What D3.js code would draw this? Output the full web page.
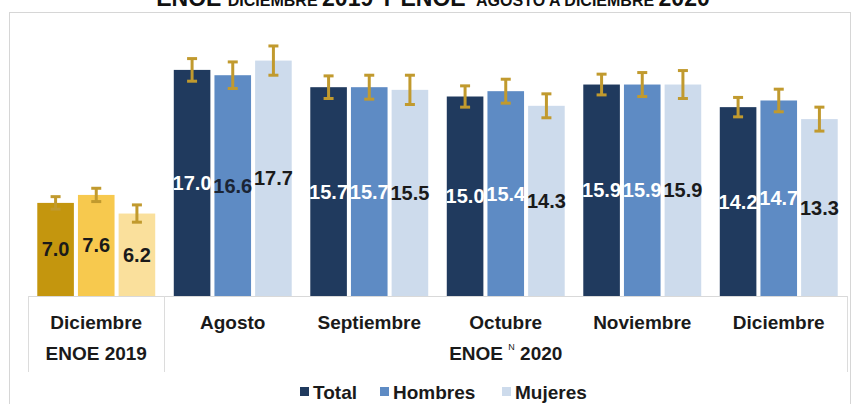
<!DOCTYPE html>
<html>
<head>
<meta charset="utf-8">
<script src="https://cdn.jsdelivr.net/npm/d3@7"></script>
<style>
  html, body { margin: 0; padding: 0; background: #ffffff; }
  svg { display: block; font-family: "Liberation Sans", Arial, sans-serif; }
</style>
</head>
<body>
<svg id="chart" width="854" height="404"></svg>
<script>
// ---- data ----
const categories = ["Diciembre", "Agosto", "Septiembre", "Octubre", "Noviembre", "Diciembre"];
const seriesNames = ["Total", "Hombres", "Mujeres"];
const totalValues   = [7.0, 17.0, 15.7, 15.0, 15.9, 14.2];
const hombresValues = [7.6, 16.6, 15.7, 15.4, 15.9, 14.7];
const mujeresValues = [6.2, 17.7, 15.5, 14.3, 15.9, 13.3];
const totalErr   = [0.47, 0.85, 0.85, 0.8, 0.78, 0.73];
const hombresErr = [0.5, 1.0, 0.9, 0.9, 0.9, 0.85];
const mujeresErr = [0.65, 1.1, 1.1, 0.9, 1.05, 0.9];
const groupLabels = ["ENOE 2019", "ENOE 2020"];
const groupStart = [0, 1];
const groupEnd = [0, 5];

// ---- styles ----
const colors2019 = ["#C4960E", "#F7C94E", "#FAE09C"];
const colors2020 = ["#203A5E", "#5E8BC4", "#CDDBEC"];
const errColor = "#C19A2E";

const svg = d3.select("#chart");

// frame
svg.append("rect").attr("x", 9.5).attr("y", 12.5).attr("width", 841).attr("height", 420)
  .attr("fill", "none").attr("stroke", "#d6d6d6").attr("stroke-width", 1);

// title (cut off at top, as in the reference)
const title = svg.append("text").attr("x", 433).attr("y", 6).attr("text-anchor", "middle")
  .attr("font-weight", "bold").attr("fill", "#111");
title.append("tspan").attr("font-size", 23).text("ENOE ");
title.append("tspan").attr("font-size", 16).text("DICIEMBRE ");
title.append("tspan").attr("font-size", 23).text("2019 Y ENOE");
title.append("tspan").attr("font-size", 9).attr("dy", -8).text("N");
title.append("tspan").attr("font-size", 16).attr("dy", 8).text(" AGOSTO A DICIEMBRE ");
title.append("tspan").attr("font-size", 23).text("2020");

// scales
const x = d3.scaleBand().domain(d3.range(categories.length)).range([28, 847])
  .paddingInner(0.136).paddingOuter(0.068);
const xs = d3.scaleBand().domain(d3.range(seriesNames.length)).range([0, x.bandwidth()])
  .paddingInner(0.1);
const y = d3.scaleLinear().domain([0, 20]).range([296, 30]);

const valuesBySeries = [totalValues, hombresValues, mujeresValues];
const errBySeries = [totalErr, hombresErr, mujeresErr];

const bars = [];
categories.forEach((c, ci) => {
  seriesNames.forEach((s, si) => {
    bars.push({ ci, si, v: valuesBySeries[si][ci], e: errBySeries[si][ci] });
  });
});

// axis baseline and separators
const axisG = svg.append("g");
axisG.append("line").attr("x1", x.range()[0]).attr("x2", x.range()[1])
  .attr("y1", y(0) + 0.5).attr("y2", y(0) + 0.5).attr("stroke", "#d9d9d9");
const sepXs = [x.range()[0], x(1) - x.step() * x.paddingInner() / 2, x.range()[1]];
sepXs.forEach(sx => {
  axisG.append("line").attr("x1", Math.round(sx) + 0.5).attr("x2", Math.round(sx) + 0.5)
    .attr("y1", y(0)).attr("y2", 372).attr("stroke", "#dcdcdc");
});

// bars
svg.append("g").selectAll("rect").data(bars).join("rect")
  .attr("x", d => x(d.ci) + xs(d.si))
  .attr("y", d => y(d.v))
  .attr("width", xs.bandwidth())
  .attr("height", d => y(0) - y(d.v))
  .attr("fill", d => (d.ci === 0 ? colors2019 : colors2020)[d.si]);

// value labels centered in bar
function labelColor(d) {
  if (d.ci === 0) return "#1a1a1a";
  if (d.si === 0) return "#ffffff";
  if (d.si === 1) return d.ci === 1 ? "#1a2435" : "#ffffff";
  return "#1a1a1a";
}
svg.append("g").selectAll("text").data(bars).join("text")
  .attr("x", d => x(d.ci) + xs(d.si) + xs.bandwidth() / 2)
  .attr("y", d => (y(d.v) + y(0)) / 2 + 7)
  .attr("text-anchor", "middle")
  .attr("font-size", 20).attr("font-weight", "bold")
  .attr("fill", labelColor)
  .text(d => d3.format(".1f")(d.v));

// error bars
const eg = svg.append("g").attr("stroke", errColor).attr("stroke-width", 3).attr("fill", "none");
bars.forEach(d => {
  const cx = x(d.ci) + xs(d.si) + xs.bandwidth() / 2;
  const y1 = y(d.v + d.e), y2 = y(d.v - d.e);
  eg.append("line").attr("x1", cx).attr("x2", cx).attr("y1", y1).attr("y2", y2);
  eg.append("line").attr("x1", cx - 5).attr("x2", cx + 5).attr("y1", y1).attr("y2", y1);
  eg.append("line").attr("x1", cx - 5).attr("x2", cx + 5).attr("y1", y2).attr("y2", y2);
});

// category labels
svg.append("g").selectAll("text").data(categories).join("text")
  .attr("x", (d, i) => x(i) + x.bandwidth() / 2)
  .attr("y", 329)
  .attr("text-anchor", "middle")
  .attr("font-size", 19).attr("font-weight", "bold").attr("fill", "#1a1a1a")
  .text(d => d);

// group labels
groupLabels.forEach((g, gi) => {
  const x0 = gi === 0 ? x.range()[0] : sepXs[1];
  const x1 = gi === 0 ? sepXs[1] : x.range()[1];
  const cx = gi === 0 ? x(groupStart[gi]) + x.bandwidth() / 2 : (x0 + x1) / 2;
  const t = svg.append("text").attr("x", cx).attr("y", 360).attr("text-anchor", "middle")
    .attr("font-size", 19).attr("font-weight", "bold").attr("fill", "#1a1a1a");
  if (gi === 0) {
    t.text(g);
  } else {
    const parts = g.split(" ");
    t.append("tspan").text(parts[0] + " ");
    t.append("tspan").attr("font-size", 9).attr("font-weight", "normal").attr("dy", -10).text("N");
    t.append("tspan").attr("dy", 10).text("  " + parts[1]);
  }
});

// legend
const legendX = [300, 380, 502];
const lg = svg.append("g");
seriesNames.forEach((s, i) => {
  lg.append("rect").attr("x", legendX[i]).attr("y", 387).attr("width", 9).attr("height", 9)
    .attr("fill", colors2020[i]);
  lg.append("text").attr("x", legendX[i] + 13).attr("y", 398.5)
    .attr("font-size", 19).attr("font-weight", "bold").attr("fill", "#1a1a1a").text(s);
});
</script>
</body>
</html>
